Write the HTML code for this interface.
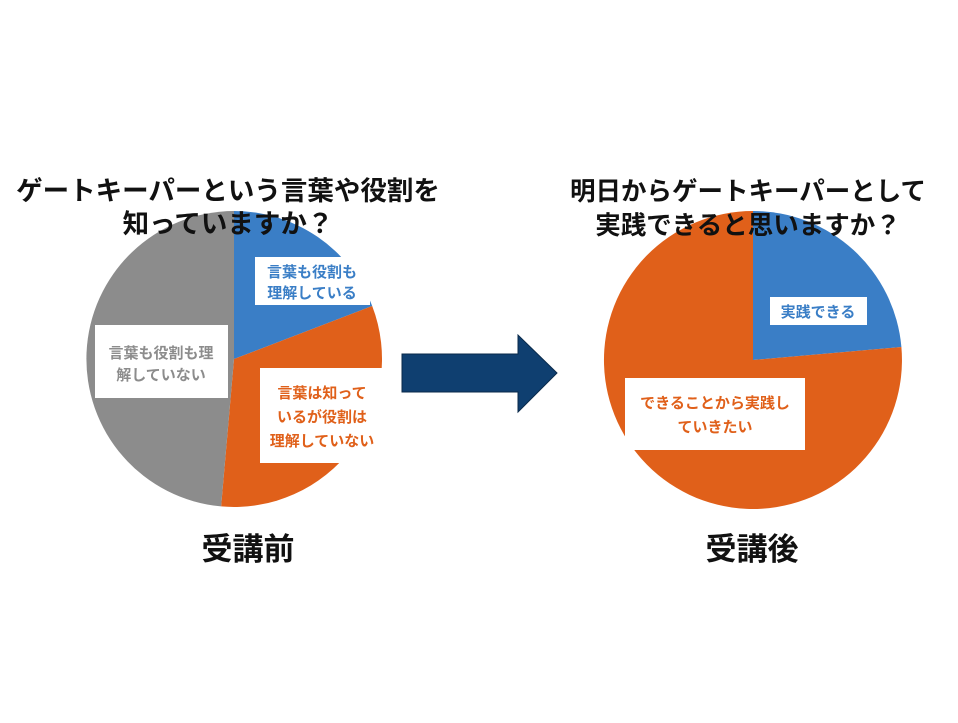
<!DOCTYPE html>
<html><head><meta charset="utf-8"><style>
body{margin:0;background:#fff;}
svg text{font-family:"Liberation Sans","Noto Sans CJK JP",sans-serif;font-weight:bold;}
</style></head><body>
<svg width="958" height="718" viewBox="0 0 958 718" xmlns="http://www.w3.org/2000/svg">
<rect width="958" height="718" fill="#fff"/>
<path d="M234,359 L234,211 A148,148 0 0 1 372.2,306 Z" fill="#3a7ec6"/>
<path d="M234,359 L372.2,306 A148,148 0 0 1 221.1,506.4 Z" fill="#e0601a"/>
<path d="M234,359 L221.1,506.4 A148,148 0 0 1 234,211 Z" fill="#8c8c8c"/>
<path d="M753,360 L753,211 A149,149 0 0 1 901.4,347 Z" fill="#3a7ec6"/>
<path d="M753,360 L901.4,347 A149,149 0 1 1 753,211 Z" fill="#e0601a"/>
<g font-size="26.5" fill="#111" text-anchor="middle">
<text x="228" y="200">ゲートキーパーという言葉や役割を</text>
<text x="228" y="233">知っていますか？</text>
</g>
<g font-size="25.5" fill="#111" text-anchor="middle">
<text x="748" y="200">明日からゲートキーパーとして</text>
<text x="748" y="234">実践できると思いますか？</text>
</g>
<rect x="255" y="257" width="115" height="48" fill="#fff"/>
<g font-size="15" fill="#3a7ec6" text-anchor="middle">
<text x="312" y="277">言葉も役割も</text><text x="312" y="298">理解している</text></g>
<rect x="95" y="325" width="133" height="73" fill="#fff"/>
<g font-size="15" fill="#8c8c8c" text-anchor="middle">
<text x="161" y="358">言葉も役割も理</text><text x="161" y="380">解していない</text></g>
<rect x="260" y="368" width="125" height="95" fill="#fff"/>
<g font-size="15" fill="#e0601a" text-anchor="middle">
<text x="322" y="398">言葉は知って</text><text x="322" y="422">いるが役割は</text><text x="322" y="446">理解していない</text></g>
<rect x="770" y="297" width="97" height="28" fill="#fff"/>
<text x="818" y="317" font-size="15" fill="#3a7ec6" text-anchor="middle">実践できる</text>
<rect x="625" y="378" width="180" height="72" fill="#fff"/>
<g font-size="15" fill="#e0601a" text-anchor="middle">
<text x="715" y="408">できることから実践し</text><text x="715" y="432">ていきたい</text></g>
<path d="M402,354 L518,354 L518,335 L557,373 L518,412 L518,392 L402,392 Z" fill="#0f3f70" stroke="#0a2a4a" stroke-width="1"/>
<g font-size="31" fill="#111" text-anchor="middle">
<text x="248" y="560">受講前</text>
<text x="752" y="560">受講後</text>
</g>
</svg>
</body></html>
